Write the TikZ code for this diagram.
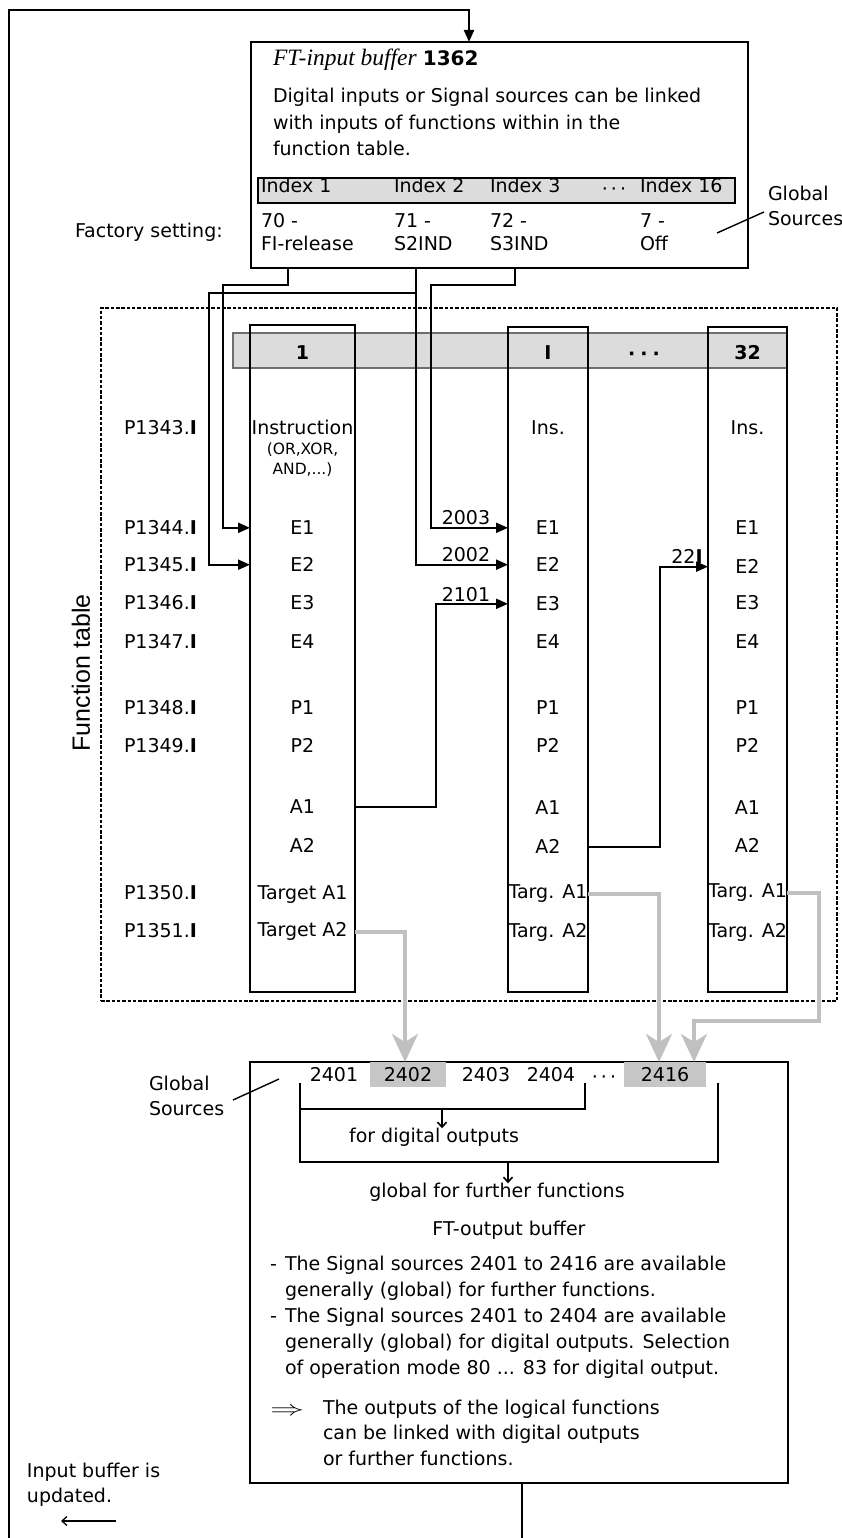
\documentclass[tikz,border=0pt]{standalone}
\usepackage{fontspec}
\usepackage{graphicx}
\setmainfont{DejaVu Sans}
\newfontfamily\serifit{Liberation Serif}
\newfontfamily\arialf{Liberation Sans}
\usetikzlibrary{arrows.meta}
\definecolor{barfill}{HTML}{DCDCDC}
\definecolor{numfill}{HTML}{C6C6C6}
\definecolor{garrow}{HTML}{C0C0C0}
\definecolor{barline}{HTML}{6E6E6E}
\newcommand\mydots{·\hspace{3pt}·\hspace{3pt}·}
\newcommand\bigdots{\textbf{·}\hspace{5pt}\textbf{·}\hspace{5pt}\textbf{·}}
\begin{document}
\begin{tikzpicture}[x=1pt,y=-1pt,
  txt/.style={inner sep=0pt,outer sep=0pt,font=\fontsize{19pt}{26pt}\selectfont},
  lbl/.style={txt,anchor=mid west},
  ctr/.style={txt,anchor=mid},
  num/.style={txt,anchor=center},
  dotlbl/.style={txt,anchor=base},
  small/.style={inner sep=0pt,anchor=mid,font=\fontsize{15.5pt}{18pt}\selectfont},
  frame/.style={draw,line width=2.1pt,inner sep=0pt,outer sep=0pt,rectangle},
  conn/.style={line width=2.1pt},
  arr/.style={conn,-{Triangle[length=12pt,width=10pt]}},
  garr/.style={line width=3.8pt,draw=garrow,-{Stealth[length=28pt,width=26pt,inset=8pt]}},
  tarr/.style={line width=1.6pt,-{Straight Barb[length=5pt,width=9pt]}},
  tline/.style={line width=1.4pt},
]
\path[use as bounding box] (0,0) rectangle (841,1538);

% ---------- top box: FT-input buffer ----------
\node[frame,minimum width=497pt,minimum height=226pt] (inbox) at (499.5,155) {};
\node[lbl] (title) at (273,63) {{\serifit\itshape\fontsize{23.5pt}{26pt}\selectfont FT-input buffer} {\bfseries\fontsize{20pt}{26pt}\selectfont 1362}};
\node[lbl] (d1) at (273,100) {Digital inputs or Signal sources can be linked};
\node[lbl] (d2) at (273,127) {with inputs of functions within in the};
\node[lbl] (d3) at (273,153) {function table.};
\node[draw,line width=1.2pt,fill=barfill,inner sep=0pt,minimum width=477pt,minimum height=25pt] (ixbar) at (496.5,190.5) {};
\node[lbl] (ix1) at (261,190) {Index 1};
\node[lbl] (ix2) at (394,190) {Index 2};
\node[lbl] (ix3) at (490,190) {Index 3};
\node[dotlbl] (ixd) at (614,196) {\mydots};
\node[lbl] (ix16) at (640,190) {Index 16};
\node[lbl] (v1a) at (261,225) {70 -};
\node[lbl] (v1b) at (261,248) {FI-release};
\node[lbl] (v2a) at (394,225) {71 -};
\node[lbl] (v2b) at (394,248) {S2IND};
\node[lbl] (v3a) at (490,225) {72 -};
\node[lbl] (v3b) at (490,248) {S3IND};
\node[lbl] (v4a) at (640,225) {7 -};
\node[lbl] (v4b) at (640,248) {Off};
\node[lbl] (factory) at (75,235) {Factory setting:};
\node[lbl] (gs1) at (768,198) {Global};
\node[lbl] (gs2) at (768,223) {Sources};
\coordinate (gsa) at (717,233);
\coordinate (gsb) at (764,212);
\draw[tline] (gsa) -- (gsb);

% ---------- function table ----------
\node[draw,line width=2.3pt,dash pattern=on 3.5pt off 1.8pt,inner sep=0pt,minimum width=736pt,minimum height=693pt] (ftab) at (469,654.5) {};
\node[rotate=90,inner sep=0pt,font=\arialf\fontsize{25pt}{28pt}\selectfont] (ftlbl) at (81,673) {Function table};
\node[draw=barline,line width=1.2pt,fill=barfill,inner sep=0pt,minimum width=554pt,minimum height=35pt] (hdr) at (510,350.5) {};
\node[frame,minimum width=105pt,minimum height=667pt] (colA) at (302.5,658.5) {};
\node[frame,minimum width=80pt,minimum height=665pt] (colB) at (548,659.5) {};
\node[frame,minimum width=79pt,minimum height=665pt] (colC) at (747.5,659.5) {};
\node[num] (h1) at (302.5,353) {\bfseries 1};
\node[num] (hI) at (548,353) {\bfseries I};
\node[dotlbl] (hd) at (644,360) {\bigdots};
\node[num] (h32) at (747.5,353) {\bfseries 32};

% row labels
\node[lbl] (r1) at (124,432) {P1343.{\bfseries I}};
\node[lbl] (r2) at (124,532) {P1344.{\bfseries I}};
\node[lbl] (r3) at (124,569) {P1345.{\bfseries I}};
\node[lbl] (r4) at (124,607) {P1346.{\bfseries I}};
\node[lbl] (r5) at (124,646) {P1347.{\bfseries I}};
\node[lbl] (r6) at (124,712) {P1348.{\bfseries I}};
\node[lbl] (r7) at (124,750) {P1349.{\bfseries I}};
\node[lbl] (r8) at (124,897) {P1350.{\bfseries I}};
\node[lbl] (r9) at (124,935) {P1351.{\bfseries I}};

% column 1
\node[ctr] (aIns) at (302.5,432) {Instruction};
\node[small] (aIns2) at (302.5,452) {(OR,XOR,};
\node[small] (aIns3) at (302.5,472) {AND,...)};
\node[ctr] (aE1) at (302.5,532) {E1};
\node[ctr] (aE2) at (302.5,569) {E2};
\node[ctr] (aE3) at (302.5,607) {E3};
\node[ctr] (aE4) at (302.5,646) {E4};
\node[ctr] (aP1) at (302.5,712) {P1};
\node[ctr] (aP2) at (302.5,750) {P2};
\node[ctr] (aA1) at (302.5,811) {A1};
\node[ctr] (aA2) at (302.5,850) {A2};
\node[ctr] (aT1) at (302.5,897) {Target A1};
\node[ctr] (aT2) at (302.5,934) {Target A2};
% column I
\node[ctr] (bIns) at (548,432) {Ins.};
\node[ctr] (bE1) at (548,532) {E1};
\node[ctr] (bE2) at (548,569) {E2};
\node[ctr] (bE3) at (548,608) {E3};
\node[ctr] (bE4) at (548,646) {E4};
\node[ctr] (bP1) at (548,712) {P1};
\node[ctr] (bP2) at (548,750) {P2};
\node[ctr] (bA1) at (548,812) {A1};
\node[ctr] (bA2) at (548,851) {A2};
\node[ctr] (bT1) at (548,896) {Targ. A1};
\node[ctr] (bT2) at (548,935) {Targ. A2};
% column 32
\node[ctr] (cIns) at (747.5,432) {Ins.};
\node[ctr] (cE1) at (747.5,532) {E1};
\node[ctr] (cE2) at (747.5,571) {E2};
\node[ctr] (cE3) at (747.5,607) {E3};
\node[ctr] (cE4) at (747.5,646) {E4};
\node[ctr] (cP1) at (747.5,712) {P1};
\node[ctr] (cP2) at (747.5,750) {P2};
\node[ctr] (cA1) at (747.5,812) {A1};
\node[ctr] (cA2) at (747.5,850) {A2};
\node[ctr] (cT1) at (747.5,895) {Targ. A1};
\node[ctr] (cT2) at (747.5,935) {Targ. A2};

% ---------- black connectors ----------
\coordinate (p1) at (288,268);
\coordinate (p2) at (416,268);
\coordinate (p3) at (515,268);
\coordinate (jB) at (416,293);
\coordinate (k1) at (436,0);
\coordinate (k2) at (660,0);
\draw[arr] (p1) |- (223,285) |- (colA.west |- aE1);
\draw[arr] (jB) -- (209,293) |- (colA.west |- aE2);
\draw[arr] (p2) |- (colB.west |- bE2);
\draw[arr] (p3) |- (431,285) |- (colB.west |- bE1);
\draw[arr] (colA.east |- aA1) -| (k1 |- bE3) -- (colB.west |- bE3);
\draw[arr] (colB.east |- bA2) -| (k2 |- cE2) -- (colC.west |- cE2);
\node[num] (l2003) at (466,518) {2003};
\node[num] (l2002) at (466,555) {2002};
\node[num] (l2101) at (466,595) {2101};
\node[num] (l22I) at (687,556) {22{\bfseries I}};

% ---------- output box ----------
\node[frame,minimum width=538pt,minimum height=421pt] (outbox) at (519,1272.5) {};
\node[num,fill=numfill,minimum width=76pt,minimum height=25pt] (n2402) at (408,1074.5) {2402};
\node[num,fill=numfill,minimum width=82pt,minimum height=25pt] (n2416) at (665,1074.5) {2416};
\node[num] (n2401) at (334,1075) {2401};
\node[num] (n2403) at (486,1075) {2403};
\node[num] (n2404) at (551,1075) {2404};
\node[dotlbl] (ndots) at (604,1083) {\mydots};

% ---------- gray connectors ----------
\coordinate (g1) at (405,1062);
\coordinate (g2) at (659,1062);
\coordinate (g3) at (694,1062);
\draw[garr] (colA.east |- aT2) -| (g1);
\draw[garr] (colB.east |- bT1) -| (g2);
\draw[garr] (colC.east |- cT1) -| (819,1021) -| (g3);

\coordinate (bL) at (300,1083);
\coordinate (b1R) at (585,1083);
\coordinate (b2R) at (718,1083);
\draw[conn] (bL) -- (300,1162) -- (718,1162) -- (b2R);
\draw[conn] (300,1109) -- (585,1109) -- (b1R);
\node[ctr] (fdo) at (434,1140) {for digital outputs};
\node[ctr] (gff) at (497,1195) {global for further functions};
\draw[tarr] (442,1109) -- (fdo.north -| 442,0);
\draw[tarr] (508,1162) -- (gff.north -| 508,0);
\node[lbl] (gs3) at (149,1088) {Global};
\node[lbl] (gs4) at (149,1113) {Sources};
\coordinate (gsc) at (233,1100);
\coordinate (gsd) at (279,1079);
\draw[tline] (gsc) -- (gsd);

\node[ctr] (ftout) at (509,1233) {FT-output buffer};
\node[lbl] (bu1) at (270,1268) {-};
\node[lbl] (t1) at (285,1268) {The Signal sources 2401 to 2416 are available};
\node[lbl] (t2) at (285,1294) {generally (global) for further functions.};
\node[lbl] (bu2) at (270,1320) {-};
\node[lbl] (t3) at (285,1320) {The Signal sources 2401 to 2404 are available};
\node[lbl] (t4) at (285,1346) {generally (global) for digital outputs. Selection};
\node[lbl] (t5) at (285,1372) {of operation mode 80 ... 83 for digital output.};
\node[inner sep=0pt,anchor=west,font=\fontsize{22pt}{24pt}\selectfont] (impl) at (270,1412) {\scalebox{1.65}[1]{$\Rightarrow$}};
\node[lbl] (t6) at (323,1412) {The outputs of the logical functions};
\node[lbl] (t7) at (323,1437) {can be linked with digital outputs};
\node[lbl] (t8) at (323,1463) {or further functions.};

% ---------- feedback loop ----------
\node[lbl] (ib1) at (27,1475) {Input buffer is};
\node[lbl] (ib2) at (27,1500) {updated.};
\coordinate (iba) at (116,1521);
\coordinate (ibb) at (61,1521);
\draw[tarr,line width=1.3pt] (iba) -- (ibb);
\coordinate (loopL) at (9,1538);
\coordinate (loopR) at (522,1538);
\coordinate (topL) at (9,10);
\coordinate (topR) at (469,10);
\draw[conn] (outbox.south -| loopR) -- (loopR);
\draw[arr] (loopL) -- (topL) -- (topR) -- (topR |- inbox.north);
\end{tikzpicture}
\end{document}
